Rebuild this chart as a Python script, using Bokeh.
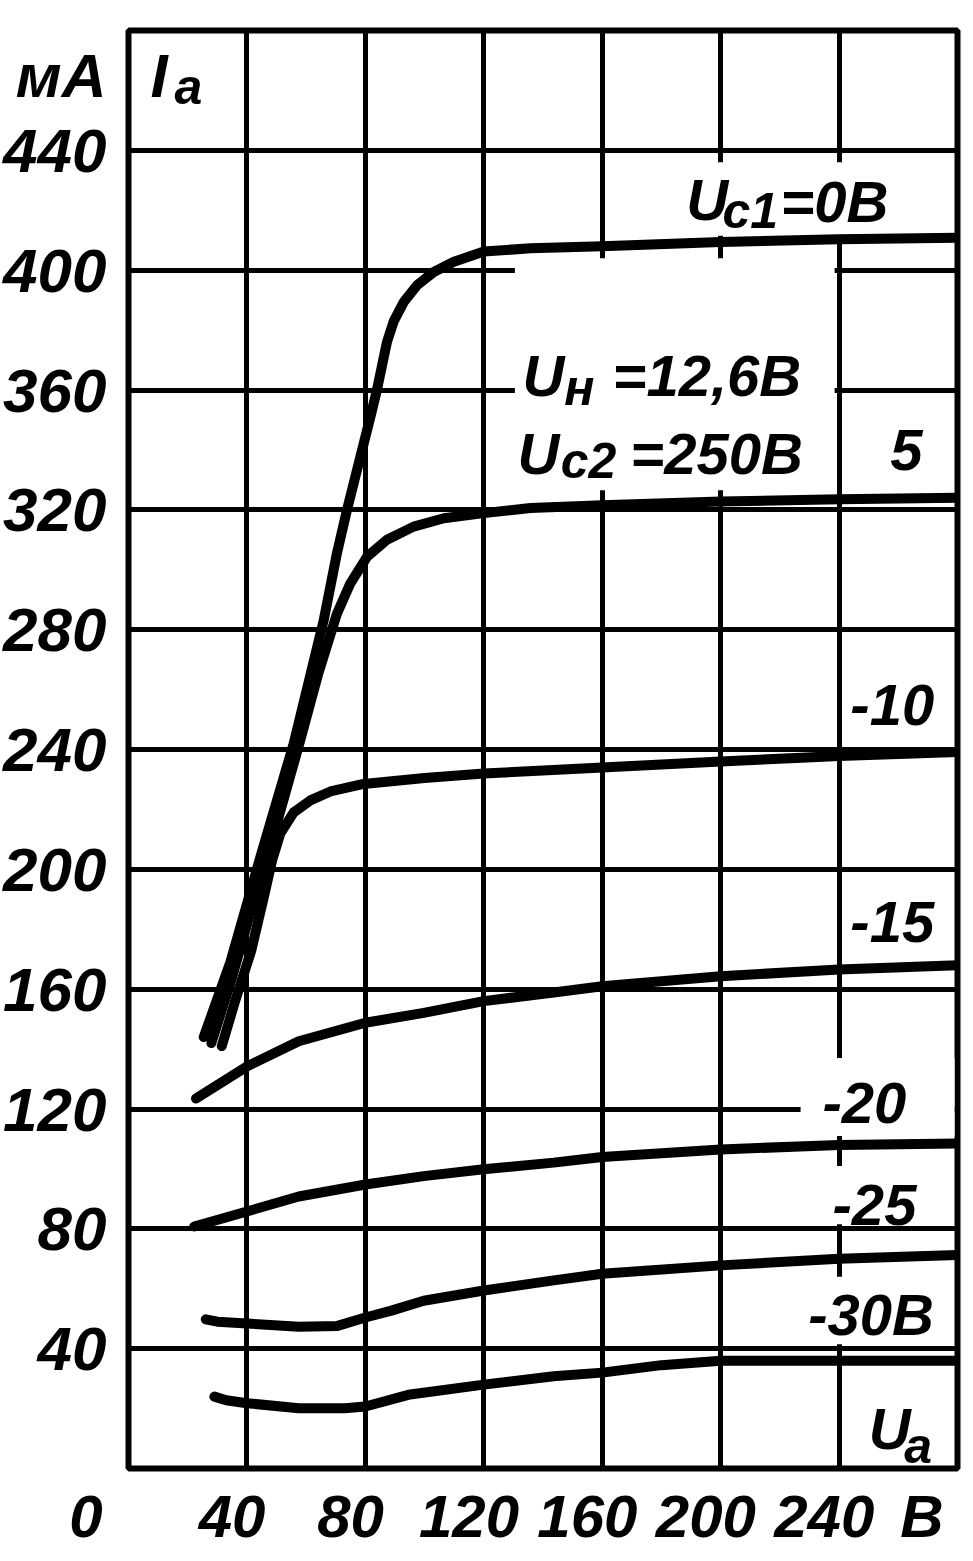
from bokeh.plotting import figure
from bokeh.models import FixedTicker, ColumnDataSource
from bokeh.embed import file_html
from bokeh.resources import INLINE
from bokeh.core.properties import value

# ---------------- data ----------------
x_ticks = [40, 80, 120, 160, 200, 240]
x_tick_labels = ["40", "80", "120", "160", "200", "240"]
x_origin_label = "0"
x_unit = "В"
y_ticks = [40, 80, 120, 160, 200, 240, 280, 320, 360, 400, 440]
y_tick_labels = ["40", "80", "120", "160", "200", "240", "280", "320", "360", "400", "440"]
y_unit = "мА"

# anode voltage Ua (V) and anode current Ia (mA) for each grid-1 voltage
ua_0 = [25.4, 34.4, 44.5, 55.8, 65.9, 70.4, 73.8, 76.6, 79.4, 81.7, 83.9, 85.6, 87.3, 89.6, 93,
        97.5, 103.1, 109.9, 120, 135.8, 160, 200, 240, 280]
ia_0 = [144, 169, 204, 242, 283, 305.5, 320, 331, 342, 351, 360, 368, 376, 383, 389.4,
        395, 399.4, 402.8, 406.2, 407.3, 408, 409.4, 410.3, 410.8]

ua_5 = [28, 35, 41, 50, 58, 64, 70.4, 74.9, 80.6, 87.3, 96.3, 106.5, 120, 135.8, 160, 200, 240, 280]
ia_5 = [142, 164, 185, 215, 243, 265, 285.3, 295.4, 304.4, 310, 314.4, 317.2, 318.9, 320.6, 321.5, 322.8, 323.5, 324]

ua_10 = [31.5, 36, 41.5, 46, 48.5, 51.3, 55.8, 61.4, 68.2, 79.4, 100, 120, 160, 200, 240, 280]
ia_10 = [141, 156, 173, 192, 203, 212, 219, 223, 226, 228.5, 230.5, 232, 234, 236, 237.8, 239.2]

ua_15 = [22.8, 40, 57.5, 80, 99.7, 120, 143.6, 160, 200, 240, 280]
ia_15 = [123.5, 134.2, 142.6, 148.8, 152.1, 156, 158.9, 161, 164.3, 166.6, 168]

ua_20 = [22.2, 40, 57.5, 80, 99.7, 120, 143.6, 160, 200, 240, 280]
ia_20 = [80.8, 85.8, 90.8, 94.8, 97.6, 99.9, 102.1, 104, 106.5, 108, 108.5]

ua_25 = [26.1, 30, 40, 57.5, 70.6, 80, 88.8, 99.7, 120, 143.6, 160, 200, 240, 280]
ia_25 = [49.8, 49, 48.4, 47.3, 47.6, 50.4, 52.7, 56, 59.4, 62.8, 65, 67.8, 70, 71.3]

ua_30 = [29, 33, 40, 57.5, 73, 80, 94.5, 120, 143.6, 160, 180, 200, 240, 280]
ia_30 = [24, 22.8, 21.8, 20.1, 20.1, 20.7, 24.6, 28, 30.8, 32, 34.5, 36, 36, 36]

curves = [(ua_0, ia_0), (ua_5, ia_5), (ua_10, ia_10), (ua_15, ia_15),
          (ua_20, ia_20), (ua_25, ia_25), (ua_30, ia_30)]

FONT = "Liberation Sans"
BIG = "58px"
SUB = "50px"
XLAB = "60px"
YLAB = "62px"

# ---------------- figure ----------------
p = figure(frame_width=829, frame_height=1438,
           x_range=(0, 280), y_range=(0, 480),
           output_backend="svg", toolbar_location=None,
           min_border_left=126, min_border_right=12,
           min_border_top=30, min_border_bottom=70,
           background_fill_color="white", border_fill_color="white")

p.outline_line_color = "black"
p.outline_line_width = 6

# grid
p.xgrid.ticker = FixedTicker(ticks=x_ticks)
p.ygrid.ticker = FixedTicker(ticks=y_ticks)
for g in (p.xgrid, p.ygrid):
    g.grid_line_color = "black"
    g.grid_line_width = 5
    g.grid_line_alpha = 1.0

# axes (numbers sit slightly left of their grid lines, as in the drawing;
# the origin "0" is pushed left of the corner with trailing em spaces)
x_label_pos = [t - 5 for t in x_ticks]
p.xaxis.ticker = FixedTicker(ticks=[0] + x_label_pos + [268])
xo = {pos: lab for pos, lab in zip(x_label_pos, x_tick_labels)}
xo[0] = x_origin_label + "\u2003\u2005\u2006"
xo[268] = x_unit
p.xaxis.major_label_overrides = xo
p.yaxis.ticker = FixedTicker(ticks=y_ticks + [465])
yo = {t: lab for t, lab in zip(y_ticks, y_tick_labels)}
yo[465] = y_unit
p.yaxis.major_label_overrides = yo

for ax in (p.xaxis, p.yaxis):
    ax.axis_line_color = None
    ax.major_tick_line_color = None
    ax.minor_tick_line_color = None
    ax.major_label_text_font = FONT
    ax.major_label_text_font_style = "bold italic"
    ax.major_label_text_color = "black"
p.xaxis.major_label_text_font_size = XLAB
p.xaxis.major_label_standoff = 8
p.yaxis.major_label_text_font_size = YLAB
p.yaxis.major_label_standoff = 16

# white patches where the drawing's grid is interrupted by lettering
p.quad(left=[183, 130.5, 227, 232, 227], right=[271, 238.5, 279, 270, 275],
       bottom=[411.5, 326.5, 111, 81.5, 41.5], top=[436, 404, 137, 101, 64],
       fill_color="white", line_color=None)

# curves
for ua, ia in curves:
    p.line(ua, ia, line_width=10, line_color="black", line_cap="round", line_join="round")

# lettering (y = vertical middle of the characters)
def txt(x, y, s, size):
    src = ColumnDataSource(dict(x=[x], y=[y], t=[s]))
    p.text(x="x", y="y", text="t", source=src, text_font=value(FONT),
           text_font_style="bold italic", text_font_size=value(size),
           text_color="black", text_align="left", text_baseline="middle")

# Ia
txt(7.4, 465, "I", "62px")
txt(15.5, 461, "а", SUB)
# Uc1 = 0 B
txt(188.4, 423.6, "U", BIG)
txt(200.6, 419.9, "с1", SUB)
txt(220.2, 423.0, "=0В", BIG)
# Uн = 12,6 B
txt(133.1, 364.7, "U", BIG)
txt(147.2, 360.8, "н", SUB)
txt(163.5, 364.7, "=12,6В", BIG)
# Uc2 = 250 B
txt(131.4, 338.7, "U", BIG)
txt(146, 336.2, "с2", SUB)
txt(169.5, 338.7, "=250В", BIG)
# curve parameters
txt(257.3, 340, "5", BIG)
txt(243.8, 255, "-10", BIG)
txt(243.8, 182.5, "-15", BIG)
txt(234.4, 121.9, "-20", BIG)
txt(237.8, 88, "-25", BIG)
txt(229.6, 51.5, "-30В", BIG)
# Ua
txt(250, 13.4, "U", BIG)
txt(262, 7.5, "а", SUB)

open("out.html", "w").write(file_html(p, INLINE))
